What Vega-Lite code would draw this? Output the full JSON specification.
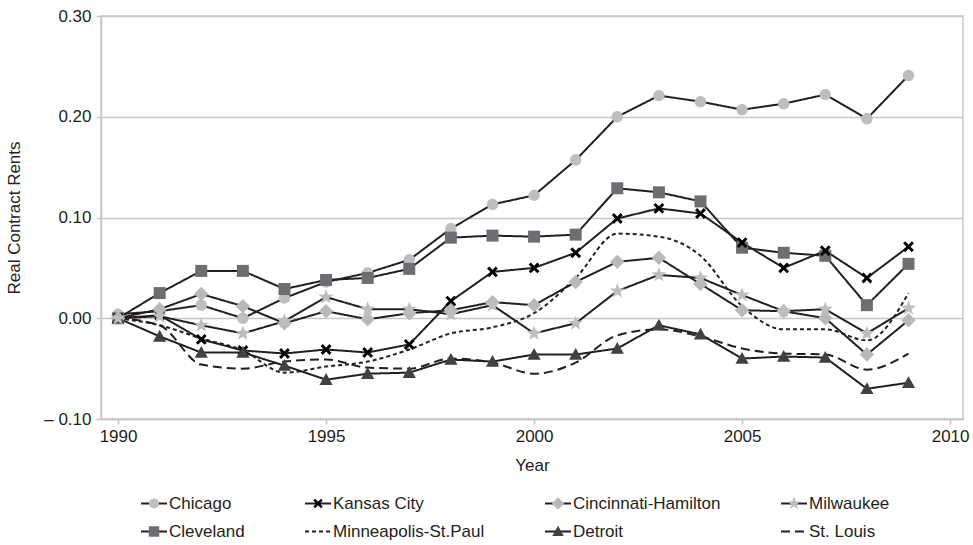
{
  "$schema": "https://vega.github.io/schema/vega-lite/v6.json",
  "width": 862,
  "height": 403,
  "autosize": {"type": "none"},
  "padding": {"left": 101, "top": 16, "right": 10, "bottom": 126},
  "background": "white",
  "config": {
    "font": "Liberation Sans",
    "view": {"stroke": "#c6c7c9", "strokeWidth": 1.5},
    "axis": {
      "domainColor": "#c6c7c9", "domainWidth": 1.5,
      "tickColor": "#c6c7c9", "tickWidth": 1.5, "tickSize": 5,
      "gridColor": "#c6c7c9", "gridWidth": 1.5,
      "labelFont": "Liberation Sans", "labelFontSize": 17, "labelColor": "#231f20",
      "titleFont": "Liberation Sans", "titleFontSize": 17, "titleFontWeight": "normal", "titleColor": "#231f20"
    },
    "axisX": {"labelPadding": 4, "titlePadding": 13},
    "axisY": {"labelPadding": 5, "titlePadding": 20}
  },
  "data": {"values": [
    {"year":1990,"city":"Chicago","value":0.004},{"year":1991,"city":"Chicago","value":0.007},{"year":1992,"city":"Chicago","value":0.013},{"year":1993,"city":"Chicago","value":0.0},{"year":1994,"city":"Chicago","value":0.02},{"year":1995,"city":"Chicago","value":0.036},{"year":1996,"city":"Chicago","value":0.045},{"year":1997,"city":"Chicago","value":0.058},{"year":1998,"city":"Chicago","value":0.089},{"year":1999,"city":"Chicago","value":0.113},{"year":2000,"city":"Chicago","value":0.122},{"year":2001,"city":"Chicago","value":0.157},{"year":2002,"city":"Chicago","value":0.2},{"year":2003,"city":"Chicago","value":0.221},{"year":2004,"city":"Chicago","value":0.215},{"year":2005,"city":"Chicago","value":0.207},{"year":2006,"city":"Chicago","value":0.213},{"year":2007,"city":"Chicago","value":0.222},{"year":2008,"city":"Chicago","value":0.198},{"year":2009,"city":"Chicago","value":0.241},
    {"year":1990,"city":"Cleveland","value":0.0},{"year":1991,"city":"Cleveland","value":0.025},{"year":1992,"city":"Cleveland","value":0.047},{"year":1993,"city":"Cleveland","value":0.047},{"year":1994,"city":"Cleveland","value":0.029},{"year":1995,"city":"Cleveland","value":0.038},{"year":1996,"city":"Cleveland","value":0.04},{"year":1997,"city":"Cleveland","value":0.049},{"year":1998,"city":"Cleveland","value":0.08},{"year":1999,"city":"Cleveland","value":0.082},{"year":2000,"city":"Cleveland","value":0.081},{"year":2001,"city":"Cleveland","value":0.083},{"year":2002,"city":"Cleveland","value":0.129},{"year":2003,"city":"Cleveland","value":0.125},{"year":2004,"city":"Cleveland","value":0.116},{"year":2005,"city":"Cleveland","value":0.07},{"year":2006,"city":"Cleveland","value":0.065},{"year":2007,"city":"Cleveland","value":0.062},{"year":2008,"city":"Cleveland","value":0.013},{"year":2009,"city":"Cleveland","value":0.054},
    {"year":1990,"city":"Kansas City","value":0.0},{"year":1991,"city":"Kansas City","value":0.003},{"year":1992,"city":"Kansas City","value":-0.021},{"year":1993,"city":"Kansas City","value":-0.032},{"year":1994,"city":"Kansas City","value":-0.035},{"year":1995,"city":"Kansas City","value":-0.031},{"year":1996,"city":"Kansas City","value":-0.034},{"year":1997,"city":"Kansas City","value":-0.026},{"year":1998,"city":"Kansas City","value":0.017},{"year":1999,"city":"Kansas City","value":0.046},{"year":2000,"city":"Kansas City","value":0.05},{"year":2001,"city":"Kansas City","value":0.065},{"year":2002,"city":"Kansas City","value":0.099},{"year":2003,"city":"Kansas City","value":0.109},{"year":2004,"city":"Kansas City","value":0.104},{"year":2005,"city":"Kansas City","value":0.075},{"year":2006,"city":"Kansas City","value":0.05},{"year":2007,"city":"Kansas City","value":0.067},{"year":2008,"city":"Kansas City","value":0.04},{"year":2009,"city":"Kansas City","value":0.071},
    {"year":1990,"city":"Minneapolis-St.Paul","value":0.0},{"year":1991,"city":"Minneapolis-St.Paul","value":-0.007},{"year":1992,"city":"Minneapolis-St.Paul","value":-0.02},{"year":1993,"city":"Minneapolis-St.Paul","value":-0.032},{"year":1994,"city":"Minneapolis-St.Paul","value":-0.054},{"year":1995,"city":"Minneapolis-St.Paul","value":-0.048},{"year":1996,"city":"Minneapolis-St.Paul","value":-0.043},{"year":1997,"city":"Minneapolis-St.Paul","value":-0.031},{"year":1998,"city":"Minneapolis-St.Paul","value":-0.015},{"year":1999,"city":"Minneapolis-St.Paul","value":-0.009},{"year":2000,"city":"Minneapolis-St.Paul","value":0.005},{"year":2001,"city":"Minneapolis-St.Paul","value":0.04},{"year":2002,"city":"Minneapolis-St.Paul","value":0.084},{"year":2003,"city":"Minneapolis-St.Paul","value":0.081},{"year":2004,"city":"Minneapolis-St.Paul","value":0.062},{"year":2005,"city":"Minneapolis-St.Paul","value":0.012},{"year":2006,"city":"Minneapolis-St.Paul","value":-0.011},{"year":2007,"city":"Minneapolis-St.Paul","value":-0.011},{"year":2008,"city":"Minneapolis-St.Paul","value":-0.022},{"year":2009,"city":"Minneapolis-St.Paul","value":0.025},
    {"year":1990,"city":"Cincinnati-Hamilton","value":0.0},{"year":1991,"city":"Cincinnati-Hamilton","value":0.009},{"year":1992,"city":"Cincinnati-Hamilton","value":0.024},{"year":1993,"city":"Cincinnati-Hamilton","value":0.012},{"year":1994,"city":"Cincinnati-Hamilton","value":-0.005},{"year":1995,"city":"Cincinnati-Hamilton","value":0.007},{"year":1996,"city":"Cincinnati-Hamilton","value":-0.001},{"year":1997,"city":"Cincinnati-Hamilton","value":0.005},{"year":1998,"city":"Cincinnati-Hamilton","value":0.008},{"year":1999,"city":"Cincinnati-Hamilton","value":0.016},{"year":2000,"city":"Cincinnati-Hamilton","value":0.013},{"year":2001,"city":"Cincinnati-Hamilton","value":0.036},{"year":2002,"city":"Cincinnati-Hamilton","value":0.056},{"year":2003,"city":"Cincinnati-Hamilton","value":0.06},{"year":2004,"city":"Cincinnati-Hamilton","value":0.034},{"year":2005,"city":"Cincinnati-Hamilton","value":0.008},{"year":2006,"city":"Cincinnati-Hamilton","value":0.007},{"year":2007,"city":"Cincinnati-Hamilton","value":0.0},{"year":2008,"city":"Cincinnati-Hamilton","value":-0.036},{"year":2009,"city":"Cincinnati-Hamilton","value":-0.002},
    {"year":1990,"city":"Detroit","value":0.0},{"year":1991,"city":"Detroit","value":-0.018},{"year":1992,"city":"Detroit","value":-0.034},{"year":1993,"city":"Detroit","value":-0.034},{"year":1994,"city":"Detroit","value":-0.047},{"year":1995,"city":"Detroit","value":-0.061},{"year":1996,"city":"Detroit","value":-0.055},{"year":1997,"city":"Detroit","value":-0.054},{"year":1998,"city":"Detroit","value":-0.041},{"year":1999,"city":"Detroit","value":-0.043},{"year":2000,"city":"Detroit","value":-0.036},{"year":2001,"city":"Detroit","value":-0.036},{"year":2002,"city":"Detroit","value":-0.03},{"year":2003,"city":"Detroit","value":-0.007},{"year":2004,"city":"Detroit","value":-0.016},{"year":2005,"city":"Detroit","value":-0.04},{"year":2006,"city":"Detroit","value":-0.038},{"year":2007,"city":"Detroit","value":-0.039},{"year":2008,"city":"Detroit","value":-0.07},{"year":2009,"city":"Detroit","value":-0.064},
    {"year":1990,"city":"Milwaukee","value":0.0},{"year":1991,"city":"Milwaukee","value":0.002},{"year":1992,"city":"Milwaukee","value":-0.007},{"year":1993,"city":"Milwaukee","value":-0.015},{"year":1994,"city":"Milwaukee","value":-0.003},{"year":1995,"city":"Milwaukee","value":0.021},{"year":1996,"city":"Milwaukee","value":0.009},{"year":1997,"city":"Milwaukee","value":0.009},{"year":1998,"city":"Milwaukee","value":0.004},{"year":1999,"city":"Milwaukee","value":0.013},{"year":2000,"city":"Milwaukee","value":-0.015},{"year":2001,"city":"Milwaukee","value":-0.005},{"year":2002,"city":"Milwaukee","value":0.027},{"year":2003,"city":"Milwaukee","value":0.043},{"year":2004,"city":"Milwaukee","value":0.04},{"year":2005,"city":"Milwaukee","value":0.023},{"year":2006,"city":"Milwaukee","value":0.007},{"year":2007,"city":"Milwaukee","value":0.009},{"year":2008,"city":"Milwaukee","value":-0.015},{"year":2009,"city":"Milwaukee","value":0.01},
    {"year":1990,"city":"St. Louis","value":0.0},{"year":1991,"city":"St. Louis","value":-0.007},{"year":1992,"city":"St. Louis","value":-0.046},{"year":1993,"city":"St. Louis","value":-0.05},{"year":1994,"city":"St. Louis","value":-0.043},{"year":1995,"city":"St. Louis","value":-0.041},{"year":1996,"city":"St. Louis","value":-0.049},{"year":1997,"city":"St. Louis","value":-0.05},{"year":1998,"city":"St. Louis","value":-0.04},{"year":1999,"city":"St. Louis","value":-0.044},{"year":2000,"city":"St. Louis","value":-0.055},{"year":2001,"city":"St. Louis","value":-0.044},{"year":2002,"city":"St. Louis","value":-0.017},{"year":2003,"city":"St. Louis","value":-0.011},{"year":2004,"city":"St. Louis","value":-0.018},{"year":2005,"city":"St. Louis","value":-0.03},{"year":2006,"city":"St. Louis","value":-0.035},{"year":2007,"city":"St. Louis","value":-0.036},{"year":2008,"city":"St. Louis","value":-0.051},{"year":2009,"city":"St. Louis","value":-0.035}
  ]},
  "encoding": {
    "x": {
      "field": "year", "type": "quantitative",
      "scale": {"domain": [1989.59, 2010.31], "nice": false, "zero": false},
      "axis": {"title": "Year", "values": [1990, 1995, 2000, 2005, 2010], "format": "d", "grid": false, "labelFlush": false}
    },
    "y": {
      "field": "value", "type": "quantitative",
      "scale": {"domain": [-0.1, 0.3], "nice": false, "zero": false},
      "axis": {
        "title": "Real Contract Rents", "values": [-0.1, 0, 0.1, 0.2, 0.3], "grid": true,
        "labelExpr": "datum.value < 0 ? '\u2013 ' + format(-datum.value, '.2f') : format(datum.value, '.2f')"
      }
    }
  },
  "layer": [
    {
      "transform": [{"filter": {"field": "city", "oneOf": ["Chicago", "Kansas City", "Cincinnati-Hamilton", "Milwaukee", "Cleveland", "Detroit"]}}],
      "mark": {"type": "line", "color": "#231f20", "strokeWidth": 2},
      "encoding": {
        "strokeDash": {
          "field": "city", "type": "nominal",
          "scale": {
            "domain": ["Chicago", "Kansas City", "Cincinnati-Hamilton", "Milwaukee", "Cleveland", "Minneapolis-St.Paul", "Detroit", "St. Louis"],
            "range": [[1, 0], [1, 0], [1, 0], [1, 0], [1, 0], [4, 3], [1, 0], [9, 5]]
          },
          "legend": {
            "orient": "none", "legendX": 39, "legendY": 477, "direction": "horizontal", "columns": 4,
            "title": null, "symbolType": "stroke", "symbolSize": 676, "symbolStrokeWidth": 2,
            "symbolStrokeColor": "#231f20", "symbolOffset": 0, "labelOffset": 1, "clipHeight": 21,
            "labelFont": "Liberation Sans", "labelFontSize": 17, "labelColor": "#231f20", "labelLimit": 400,
            "columnPadding": 59, "rowPadding": 7, "padding": 0, "gridAlign": "each", "zindex": 1
          }
        }
      }
    },
    {
      "transform": [{"filter": {"field": "city", "oneOf": ["Minneapolis-St.Paul", "St. Louis"]}}],
      "mark": {"type": "line", "color": "#231f20", "strokeWidth": 2, "interpolate": "monotone"},
      "encoding": {
        "strokeDash": {
          "field": "city", "type": "nominal",
          "scale": {
            "domain": ["Chicago", "Kansas City", "Cincinnati-Hamilton", "Milwaukee", "Cleveland", "Minneapolis-St.Paul", "Detroit", "St. Louis"],
            "range": [[1, 0], [1, 0], [1, 0], [1, 0], [1, 0], [4, 3], [1, 0], [9, 5]]
          }
        }
      }
    },
    {
      "transform": [{"filter": {"field": "city", "oneOf": ["Chicago", "Kansas City", "Cincinnati-Hamilton", "Milwaukee", "Cleveland", "Detroit"]}}],
      "mark": {"type": "point", "filled": true, "size": 900, "opacity": 1},
      "encoding": {
        "shape": {
          "field": "city", "type": "nominal",
          "scale": {
            "domain": ["Chicago", "Kansas City", "Cincinnati-Hamilton", "Milwaukee", "Cleveland", "Minneapolis-St.Paul", "Detroit", "St. Louis\u200b"],
            "range": [
            "M-0.38,0A0.38,0.38,0,1,0,0.38,0A0.38,0.38,0,1,0,-0.38,0Z",
            "M0.362,-0.223L0.138,0L0.362,0.223L0.223,0.362L0,0.138L-0.223,0.362L-0.362,0.223L-0.138,0L-0.362,-0.223L-0.223,-0.362L0,-0.138L0.223,-0.362Z",
            "M0,-0.48L0.48,0L0,0.48L-0.48,0Z",
            "M0,-0.53L0.129,-0.177L0.504,-0.163L0.208,0.068L0.311,0.428L0,0.219L-0.311,0.428L-0.208,0.068L-0.504,-0.163L-0.129,-0.177Z",
            "M-0.4,-0.4H0.4V0.4H-0.4Z",
            "M-0.01,0L0.01,0",
            "M0,-0.44L0.44,0.35H-0.44Z",
            "M-0.01,0L0.01,0"
          ]},
          "legend": {
            "orient": "none", "legendX": 39, "legendY": 477, "direction": "horizontal", "columns": 4,
            "title": null, "symbolSize": 676, "symbolStrokeWidth": 2, "symbolStrokeColor": "transparent",
            "symbolOffset": 0, "labelOffset": 1, "clipHeight": 21,
            "labelExpr": "replace(datum.label, '\u200b', '')", "labelOpacity": 0,
            "labelFont": "Liberation Sans", "labelFontSize": 17, "labelLimit": 400,
            "columnPadding": 59, "rowPadding": 7, "padding": 0, "gridAlign": "each", "zindex": 2
          }
        },
        "color": {
          "field": "city", "type": "nominal",
          "scale": {
            "domain": ["Chicago", "Kansas City", "Cincinnati-Hamilton", "Milwaukee", "Cleveland", "Minneapolis-St.Paul", "Detroit", "St. Louis\u200b"],
            "range": ["#bcbec0", "#000000", "#b8b9bb", "#bcbec0", "#6d6e71", "transparent", "#414042", "transparent"]
          },
          "legend": {
            "orient": "none", "legendX": 39, "legendY": 477, "direction": "horizontal", "columns": 4,
            "title": null, "symbolSize": 676, "symbolStrokeWidth": 2, "symbolStrokeColor": "transparent",
            "symbolOffset": 0, "labelOffset": 1, "clipHeight": 21,
            "labelExpr": "replace(datum.label, '\u200b', '')", "labelOpacity": 0,
            "labelFont": "Liberation Sans", "labelFontSize": 17, "labelLimit": 400,
            "columnPadding": 59, "rowPadding": 7, "padding": 0, "gridAlign": "each", "zindex": 2
          }
        }
      }
    }
  ]
}
